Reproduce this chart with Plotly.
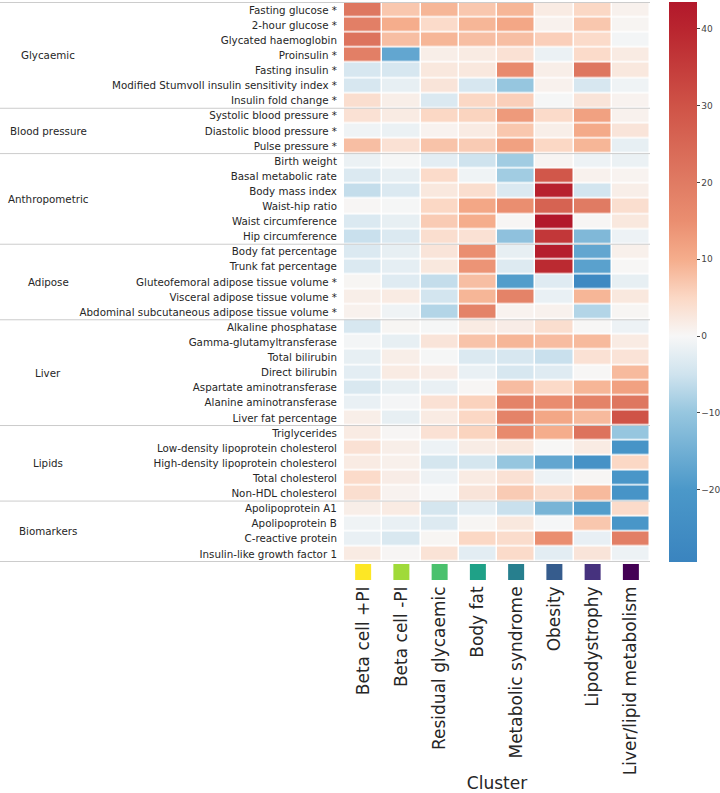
import plotly.graph_objects as go

CLUSTERS = [
    "Beta cell +PI", "Beta cell -PI", "Residual glycaemic", "Body fat",
    "Metabolic syndrome", "Obesity", "Lipodystrophy", "Liver/lipid metabolism",
]
CLUSTER_COLOURS = [
    "#fde725", "#a0da39", "#4ac16d", "#1fa187",
    "#277f8e", "#365c8d", "#46327e", "#440154",
]

GROUP_NAMES = [
    "Glycaemic", "Blood pressure", "Anthropometric", "Adipose",
    "Liver", "Lipids", "Biomarkers",
]
GROUP_SIZES = [7, 3, 6, 5, 7, 5, 4]

TRAITS = [
    "Fasting glucose *", "2-hour glucose *", "Glycated haemoglobin", "Proinsulin *",
    "Fasting insulin *", "Modified Stumvoll insulin sensitivity index *",
    "Insulin fold change *",
    "Systolic blood pressure *", "Diastolic blood pressure *", "Pulse pressure *",
    "Birth weight", "Basal metabolic rate", "Body mass index", "Waist-hip ratio",
    "Waist circumference", "Hip circumference",
    "Body fat percentage", "Trunk fat percentage",
    "Gluteofemoral adipose tissue volume *", "Visceral adipose tissue volume *",
    "Abdominal subcutaneous adipose tissue volume *",
    "Alkaline phosphatase", "Gamma-glutamyltransferase", "Total bilirubin",
    "Direct bilirubin", "Aspartate aminotransferase", "Alanine aminotransferase",
    "Liver fat percentage",
    "Triglycerides", "Low-density lipoprotein cholesterol",
    "High-density lipoprotein cholesterol", "Total cholesterol", "Non-HDL cholesterol",
    "Apolipoprotein A1", "Apolipoprotein B", "C-reactive protein",
    "Insulin-like growth factor 1",
]

# one row per trait, one value per cluster
VALUES = [
    [21, 7, 9, 7, 9, 2, 5, 1],
    [19, 10, 4.5, 9, 11, 1, 7, 0.5],
    [22, 8, 9, 8, 8, 6, 4.5, -0.5],
    [19, -17, 1.5, 2, 3.5, -1.5, 4.5, 2],
    [-4, -4, 2.5, 2.5, 16, 1.5, 21, 2.5],
    [-4, -2, 3, -4, -10, 1, -4, -1],
    [4, 1.5, -3.5, 5, 6, -0.3, 3, 0.8],
    [3.5, 2, 5, 5.5, 13, 4.5, 12, 1],
    [-1, -1.5, 0.8, 2, 7, 1.5, 10.5, 3],
    [8, 3.5, 7.5, 6.5, 12, 5, 9, -2],
    [-1.5, -0.3, -2.5, -5, -9, 0.5, -1.2, -1.5],
    [-3.5, -2, 4.5, -1, -9, 29, 1, 0.7],
    [-6, -3.5, 2.5, 4, -3.5, 41, -4.5, 1.5],
    [0.3, -0.3, 5, 11, 15, 26, 20, 4],
    [-3.5, -2, 6.5, 10, 0.3, 44, 0.3, 2.5],
    [-5.5, -3.5, 4, 3.5, -11, 36, -13, -1.2],
    [-3.5, -2, 3, 15, -2, 42, -17, 1.2],
    [-3.5, -2.3, 2.5, 14, -3.3, 39, -18, 0.2],
    [0.4, -3, -6, 8, -19, -3, -27, -2],
    [1.5, 2, -4.5, 9, 18, -1.7, 9, 2.5],
    [1, -1, -7.5, 18, 0.8, 1, -7.5, 0.4],
    [-4, 0.4, -0.3, 2, 1.7, 4, 0.2, -1.2],
    [-0.5, -2, 3, 7.5, 9, 8.2, 8.5, 2],
    [-2, 1.5, -0.3, -3.5, -4, -5.5, 3.5, 3.2],
    [-2.5, 2, 1.7, -1.7, -4, -3, 0.2, 8.5],
    [-3.7, -2, -1.7, 0.3, 8.2, 4.7, 9, 12],
    [-1.7, -0.4, 3.5, 5.7, 18, 15.5, 18, 21],
    [1.5, -2, 2, 5, 18, 11, 8.5, 30],
    [2, 0.3, 3.5, 5.5, 16, 10, 22, -10],
    [3.5, 1.5, -1.2, 1.8, 2.5, 0.2, 2, -22],
    [2, 1.2, -4.3, -4.2, -10, -17, -23, 5],
    [4.5, 1.7, -1.2, 2, 3.5, -1.2, 0.3, -21],
    [4, 0.8, 0, 3, 6.5, 4.3, 8.5, -22],
    [1.5, 2, -4.3, -2.5, -5.5, -14, -19, 4.5],
    [-1, -1.8, -3.3, 0.4, 2.5, -0.2, 7, -21],
    [-1.8, -3.7, 0.4, 5, 4.3, 15, -1.9, 19],
    [2, 0.3, 3.3, -2.5, 4.5, -2.5, 3, -1.3],
]

ZMIN, ZMAX = -29.4, 43.5
COLOUR_STOPS = [
    (-29.4, "#3a84bf"), (-20, "#4b98c9"), (-10, "#96c6df"), (-5, "#cfe3ee"),
    (0, "#f7f7f7"), (5, "#fbd8c5"), (10, "#f5ad8c"), (15, "#ea8e70"),
    (20, "#e07b63"), (30, "#cf5347"), (40, "#b9252f"), (43.5, "#b2182b"),
]
colorscale = [[(v - ZMIN) / (ZMAX - ZMIN), c] for v, c in COLOUR_STOPS]

FONT = "DejaVu Sans"
TEXT = "#262626"

# pixel layout of the reference
W, H = 720, 793
L, R, T, B = 344, 70, 2, 211
plot_h = H - T - B
strip = 20 / plot_h
plot_w = W - L - R

fig = go.Figure()
fig.add_trace(go.Heatmap(
    z=VALUES, x=CLUSTERS, y=TRAITS,
    zmin=ZMIN, zmax=ZMAX, colorscale=colorscale,
    xgap=1.5, ygap=1.5,
    colorbar=dict(
        x=(669 - L) / plot_w, xanchor="left", y=1, yanchor="top",
        len=560 / plot_h, thickness=28, outlinewidth=0, xpad=0, ypad=0,
        ticks="outside", ticklen=3, tickcolor="#444",
        tickvals=[-20, -10, 0, 10, 20, 30, 40],
        tickfont=dict(size=9, color="#444", family=FONT),
    ),
    hoverongaps=False,
))
fig.add_trace(go.Scatter(
    x=CLUSTERS, y=[0.5] * len(CLUSTERS), yaxis="y2", mode="markers",
    marker=dict(symbol="square", size=16, color=CLUSTER_COLOURS, line=dict(width=0)),
    showlegend=False, hoverinfo="skip",
))

# group separators and labels
shapes, annotations = [], []
start = 0
for name, size in zip(GROUP_NAMES, GROUP_SIZES):
    annotations.append(dict(
        text=name, xref="paper", yref="y", x=(48 - L) / plot_w,
        y=start + (size - 1) / 2, xanchor="center", showarrow=False,
        font=dict(size=10.3, color=TEXT, family=FONT),
    ))
    shapes.append(dict(
        type="line", xref="paper", yref="y", x0=-L / plot_w, x1=1,
        y0=start - 0.5, y1=start - 0.5, line=dict(color="#cccccc", width=1),
    ))
    start += size
shapes.append(dict(
    type="line", xref="paper", yref="y", x0=-L / plot_w, x1=1,
    y0=start - 0.5, y1=start - 0.5, line=dict(color="#cccccc", width=1),
))

fig.update_layout(
    width=W, height=H,
    margin=dict(l=L, r=R, t=T, b=B, autoexpand=False),
    paper_bgcolor="white", plot_bgcolor="white",
    font=dict(family=FONT, color=TEXT),
    shapes=shapes, annotations=annotations,
    xaxis=dict(
        anchor="y2", tickangle=-90, showgrid=False, zeroline=False, automargin=False,
        ticks="", range=[-0.5, len(CLUSTERS) - 0.5],
        tickfont=dict(size=17, color=TEXT, family=FONT),
        title=dict(text="Cluster", font=dict(size=17, color=TEXT, family=FONT), standoff=2),
    ),
    yaxis=dict(
        domain=[strip, 1], autorange="reversed", showgrid=False, zeroline=False,
        automargin=False, ticks="outside", ticklen=4, tickcolor="rgba(0,0,0,0)",
        tickfont=dict(size=10.3, color=TEXT, family=FONT),
    ),
    yaxis2=dict(domain=[0, strip], range=[0, 1], visible=False),
    showlegend=False,
)

fig.write_html(
    "out.html",
    config={"displayModeBar": False},
    post_script="document.body.style.margin='0';",
)
